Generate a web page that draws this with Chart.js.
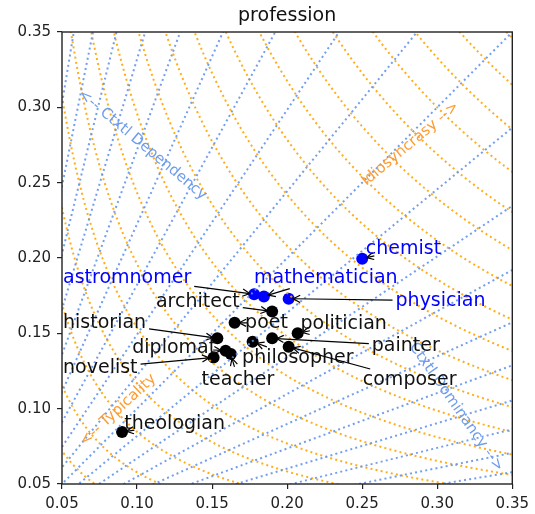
<!DOCTYPE html>
<html>
<head>
<meta charset="utf-8">
<script src="https://cdn.jsdelivr.net/npm/chart.js@4"></script>
<style>
  html, body { margin: 0; padding: 0; background: #fff; }
  canvas { display: block; }
</style>
</head>
<body>
<canvas id="chart" width="535" height="514"></canvas>
<script>
// data
const professions = ['chemist', 'astromnomer', 'mathematician', 'physician', 'architect', 'poet',
  'historian', 'diplomat', 'teacher', 'novelist', 'philosopher', 'politician', 'painter',
  'composer', 'theologian'];
const xValues = [0.250, 0.178, 0.1845, 0.201, 0.190, 0.165, 0.1535, 0.159, 0.1625, 0.151,
  0.177, 0.207, 0.190, 0.201, 0.090];
const yValues = [0.1995, 0.176, 0.1745, 0.173, 0.1645, 0.157, 0.1467, 0.1385, 0.1363, 0.134,
  0.1444, 0.150, 0.1467, 0.1411, 0.0845];
const highlighted = ['chemist', 'astromnomer', 'mathematician', 'physician'];

// where each label's text sits (data coords, left / baseline)
const labelX = [0.2524, 0.0507, 0.1779, 0.2722, 0.1126, 0.172, 0.0507, 0.0968, 0.143, 0.0507,
  0.170, 0.2089, 0.2564, 0.2504, 0.0915];
const labelY = [0.2027, 0.1834, 0.1834, 0.1681, 0.1675, 0.1535, 0.1535, 0.1369, 0.1157, 0.1237,
  0.1303, 0.1529, 0.1383, 0.1157, 0.0865];

const tickValues = [0.05, 0.10, 0.15, 0.20, 0.25, 0.30, 0.35];

// guide curves: sqrt(x*y) = level (orange), ln(y/x) = level (blue)
const typicalityLevels = [0.060, 0.076, 0.092, 0.108, 0.124, 0.140, 0.156, 0.172, 0.188, 0.204,
  0.220, 0.236, 0.252, 0.268, 0.284, 0.300, 0.316, 0.332, 0.348];
const logRatioLevels = [-1.8, -1.6, -1.4, -1.2, -1.0, -0.8, -0.6, -0.4, -0.2, 0, 0.2, 0.4, 0.6,
  0.8, 1.0, 1.2, 1.4, 1.6, 1.8];

// guide captions
const guideTexts = ['<-- Ctxtl Dependency', 'Idiosyncrasy -->', '<-- Typicality', 'Ctxtl Dominancy -->'];
const guideX = [0.1037, 0.2821, 0.0873, 0.3127];
const guideY = [0.275, 0.2757, 0.0991, 0.1011];
const guideAngle = [40, -40, -43, 55];
const guideColor = ['#6f9ceb', '#ff9b2f', '#ff9b2f', '#6f9ceb'];

const FONT = '"DejaVu Sans", Verdana, sans-serif';
const BLUE_LINE = 'rgba(100,149,237,0.9)';
const ORANGE_LINE = 'rgba(255,165,0,0.9)';

const points = professions.map((p, i) => ({ x: xValues[i], y: yValues[i] }));
const pointColors = professions.map(p => highlighted.includes(p) ? '#0000ff' : '#000000');

function drawArrow(ctx, x0, y0, x1, y1) {
  const ang = Math.atan2(y1 - y0, x1 - x0);
  ctx.beginPath();
  ctx.moveTo(x0, y0);
  ctx.lineTo(x1, y1);
  ctx.stroke();
  const hl = 7, hw = 3.6;
  ctx.beginPath();
  ctx.moveTo(x1 - hl * Math.cos(ang) + hw * Math.sin(ang), y1 - hl * Math.sin(ang) - hw * Math.cos(ang));
  ctx.lineTo(x1, y1);
  ctx.lineTo(x1 - hl * Math.cos(ang) - hw * Math.sin(ang), y1 - hl * Math.sin(ang) + hw * Math.cos(ang));
  ctx.stroke();
}

const overlay = {
  id: 'overlay',
  afterDatasetsDraw(chart) {
    const { ctx, chartArea: a, scales: { x, y } } = chart;

    // dotted guide curves (drawn above the markers, like matplotlib lines)
    ctx.save();
    ctx.beginPath();
    ctx.rect(a.left, a.top, a.right - a.left, a.bottom - a.top);
    ctx.clip();
    ctx.lineWidth = 2;
    ctx.lineCap = 'butt';
    ctx.setLineDash([2, 3.2]);
    ctx.strokeStyle = ORANGE_LINE;
    typicalityLevels.forEach(c => {
      ctx.beginPath();
      for (let i = 0; i <= 500; i++) {
        const s = -2.5 + i * 0.01;
        const px = x.getPixelForValue(c * Math.exp(s));
        const py = y.getPixelForValue(c * Math.exp(-s));
        if (i === 0) ctx.moveTo(px, py); else ctx.lineTo(px, py);
      }
      ctx.stroke();
    });
    ctx.strokeStyle = BLUE_LINE;
    logRatioLevels.forEach(r => {
      const k = Math.exp(r);
      ctx.beginPath();
      ctx.moveTo(x.getPixelForValue(0), y.getPixelForValue(0));
      ctx.lineTo(x.getPixelForValue(0.6), y.getPixelForValue(0.6 * k));
      ctx.stroke();
    });
    ctx.restore();

    // guide captions
    ctx.save();
    ctx.font = '15px ' + FONT;
    ctx.textAlign = 'center';
    ctx.textBaseline = 'middle';
    guideTexts.forEach((t, i) => {
      ctx.save();
      ctx.translate(x.getPixelForValue(guideX[i]), y.getPixelForValue(guideY[i]));
      ctx.rotate(guideAngle[i] * Math.PI / 180);
      ctx.fillStyle = guideColor[i];
      ctx.fillText(t, 0, 0);
      ctx.restore();
    });
    ctx.restore();

    // labels with arrows
    ctx.save();
    const fs = 19;
    ctx.font = fs + 'px ' + FONT;
    ctx.textAlign = 'left';
    ctx.textBaseline = 'alphabetic';
    ctx.strokeStyle = '#000';
    ctx.lineWidth = 1.2;
    professions.forEach((name, i) => {
      const tx = x.getPixelForValue(labelX[i]);
      const ty = y.getPixelForValue(labelY[i]);
      const w = ctx.measureText(name).width;
      const left = tx, right = tx + w, top = ty - 0.8 * fs, bottom = ty + 0.25 * fs;
      const cx = (left + right) / 2, cy = (top + bottom) / 2;
      const px = x.getPixelForValue(xValues[i]);
      const py = y.getPixelForValue(yValues[i]);
      const dx = px - cx, dy = py - cy;
      const len = Math.hypot(dx, dy);
      const ux = dx / len, uy = dy / len;
      const t = Math.min(dx !== 0 ? (w / 2) / Math.abs(dx) : Infinity,
        dy !== 0 ? ((bottom - top) / 2) / Math.abs(dy) : Infinity);
      let sx = cx + dx * t + ux * 3, sy = cy + dy * t + uy * 3;
      const ex = px - ux * 4.5, ey = py - uy * 4.5;
      if ((ex - sx) * ux + (ey - sy) * uy < 8) { sx = ex - ux * 8; sy = ey - uy * 8; }
      drawArrow(ctx, sx, sy, ex, ey);
      ctx.fillStyle = highlighted.includes(name) ? '#0000ff' : '#111111';
      ctx.fillText(name, tx, ty);
    });
    ctx.restore();

    // axes frame and title
    ctx.save();
    ctx.strokeStyle = '#222';
    ctx.lineWidth = 1.4;
    ctx.strokeRect(a.left, a.top, a.right - a.left, a.bottom - a.top);
    ctx.fillStyle = '#111';
    ctx.font = '19px ' + FONT;
    ctx.textAlign = 'center';
    ctx.textBaseline = 'alphabetic';
    ctx.fillText('profession', (a.left + a.right) / 2, 21);
    ctx.restore();
  }
};

const axisCommon = {
  type: 'linear',
  min: 0.05,
  max: 0.35,
  afterBuildTicks: axis => { axis.ticks = tickValues.map(v => ({ value: v })); },
  ticks: {
    callback: v => v.toFixed(2),
    font: { family: FONT, size: 15 },
    color: '#222',
    padding: 6,
    autoSkip: false,
    maxRotation: 0
  },
  grid: { drawOnChartArea: false, drawTicks: true, tickLength: 5, color: '#222', lineWidth: 1.2 },
  border: { display: false }
};

new Chart(document.getElementById('chart'), {
  type: 'scatter',
  data: {
    datasets: [{
      data: points,
      pointRadius: 6,
      pointBackgroundColor: pointColors,
      pointBorderWidth: 0
    }]
  },
  options: {
    responsive: false,
    animation: false,
    devicePixelRatio: 1,
    layout: { padding: { left: 0, top: 32, right: 18, bottom: 0 } },
    plugins: { legend: { display: false }, tooltip: { enabled: false }, title: { display: false } },
    scales: {
      x: Object.assign({}, axisCommon, { position: 'bottom', afterFit: s => { s.height = 30; } }),
      y: Object.assign({}, axisCommon, { position: 'left', afterFit: s => { s.width = 62; } })
    }
  },
  plugins: [overlay]
});
</script>
</body>
</html>
